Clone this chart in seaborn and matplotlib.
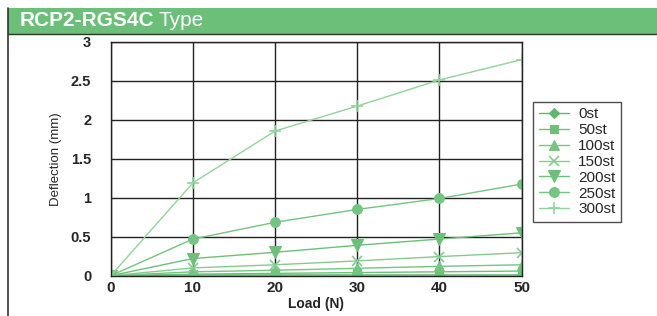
import pandas as pd
import matplotlib
matplotlib.use("Agg")
import matplotlib.pyplot as plt
import seaborn as sns

load = [0, 10, 20, 30, 40, 50]
st_0 = [0, 0.01, 0.01, 0.01, 0.01, 0.01]
st_50 = [0, 0.02, 0.03, 0.04, 0.05, 0.06]
st_100 = [0, 0.05, 0.07, 0.095, 0.12, 0.14]
st_150 = [0, 0.10, 0.14, 0.19, 0.245, 0.295]
st_200 = [0, 0.22, 0.30, 0.39, 0.47, 0.55]
st_250 = [0, 0.47, 0.685, 0.85, 0.99, 1.175]
st_300 = [0, 1.19, 1.855, 2.175, 2.51, 2.77]
labels = ["0st", "50st", "100st", "150st", "200st", "250st", "300st"]
series = [st_0, st_50, st_100, st_150, st_200, st_250, st_300]

markers = ["D", "s", "^", "x", "v", "o", "+"]
sizes = [5, 6, 7, 7, 8, 7, 9]
colors = ["#5fb86e", "#6cc07a", "#74c482", "#84cb90", "#6cc07a", "#74c482", "#92d39c"]

sns.set_style("white")
plt.rcParams["font.family"] = ["Liberation Sans", "DejaVu Sans"]

fig = plt.figure(figsize=(6.57, 3.16), dpi=100)

# header band
fig.patches.append(plt.Rectangle((0.012, 0.892), 0.988, 0.083, transform=fig.transFigure,
                                 facecolor="#6bbf78", edgecolor="none"))
fig.lines.append(plt.Line2D([0.012, 1.0], [0.892, 0.892], transform=fig.transFigure,
                            color="#333333", lw=1.0))
fig.lines.append(plt.Line2D([0.012, 0.012], [0.0, 0.975], transform=fig.transFigure,
                            color="#333333", lw=1.2))
fig.text(0.03, 0.934, "RCP2-RGS4C", color="white", fontsize=15, fontweight="bold",
         va="center", ha="left")
fig.text(0.242, 0.934, "Type", color="white", fontsize=15, va="center", ha="left")

ax = fig.add_axes([0.1685, 0.1275, 0.6255, 0.7405])

for lab, vals, m, s, c in zip(labels, series, markers, sizes, colors):
    df = pd.DataFrame({"Load": load, "Deflection": vals})
    sns.lineplot(data=df, x="Load", y="Deflection", ax=ax, marker=m, markersize=s,
                 color=c, lw=1.0, label=lab, markeredgecolor=c,
                 markeredgewidth=1.2 if m in ("x", "+") else 0.8)

ax.set_xlim(0, 50)
ax.set_ylim(0, 3)
ax.set_xticks(load)
ax.set_yticks([0, 0.5, 1, 1.5, 2, 2.5, 3])
ax.set_yticklabels(["0", "0.5", "1", "1.5", "2", "2.5", "3"])
ax.grid(True, color="#222222", lw=1.0)
ax.set_axisbelow(True)
for sp in ax.spines.values():
    sp.set_color("#222222")
    sp.set_linewidth(1.0)
ax.tick_params(axis="x", labelsize=11, length=0, pad=4)
ax.tick_params(axis="y", labelsize=10.5, length=0, pad=14)
for t in ax.get_xticklabels():
    t.set_fontweight("bold")
for t in ax.get_yticklabels():
    t.set_fontweight("bold")
ax.set_xlabel("Load (N)", fontsize=10, fontweight="bold", labelpad=1)
ax.set_ylabel("Deflection (mm)", fontsize=9.5, labelpad=6)

leg = ax.legend(loc="upper left", bbox_to_anchor=(1.028, 0.742), frameon=True, fancybox=False,
                fontsize=11, handlelength=2.0, labelspacing=0.12, borderpad=0.35,
                handletextpad=0.6, borderaxespad=0)
leg.get_frame().set_edgecolor("#222222")
leg.get_frame().set_linewidth(1.0)

fig.savefig("out.png", dpi=100)
